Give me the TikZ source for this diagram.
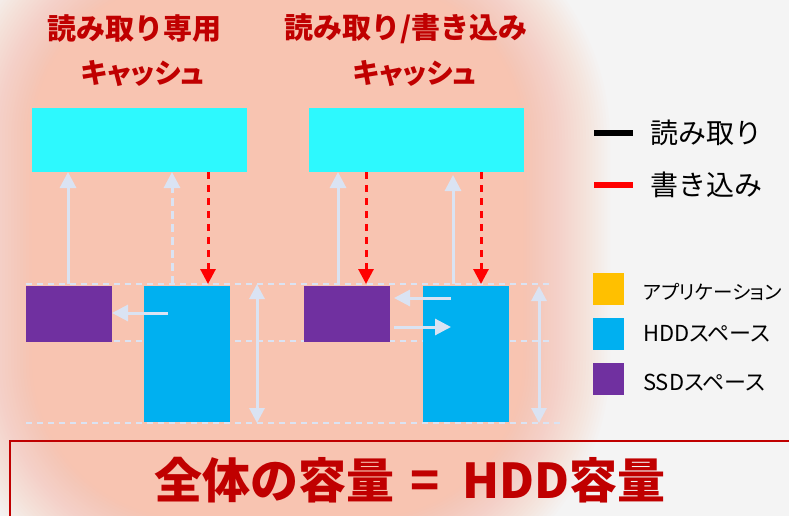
\documentclass[tikz,border=0pt]{standalone}
\usepackage{fontspec}
\usetikzlibrary{arrows.meta}
\newfontfamily\jp{Noto Sans CJK JP}
\newfontfamily\jpp[RawFeature=+palt]{Noto Sans CJK JP}
\definecolor{bgc}{HTML}{F4F4F4}
\definecolor{glow}{HTML}{F8C4B1}
\definecolor{cyanbox}{HTML}{2DF9FE}
\definecolor{purplebox}{HTML}{7030A0}
\definecolor{bluebox}{HTML}{00B0F0}
\definecolor{yellowbox}{HTML}{FFC000}
\definecolor{darkred}{HTML}{C00000}
\definecolor{pale}{HTML}{DAE3F3}
\definecolor{redline}{HTML}{FF0000}
\tikzset{
  blk/.style={inner sep=0pt, outer sep=0pt, anchor=north west, minimum width=#1},
  title/.style={text=darkred, font=\jp\bfseries\fontsize{29}{32}\selectfont},
  titlek/.style={text=darkred, font=\jpp\bfseries\fontsize{28}{32}\selectfont},
  readarrow/.style={draw=pale, line width=3pt, -{Triangle[width=16pt,length=16pt]}},
  twoway/.style={draw=pale, line width=3pt, {Triangle[width=15pt,length=15pt]}-{Triangle[width=15pt,length=15pt]}},
  writearrow/.style={draw=redline, line width=3pt, dash pattern=on 7pt off 6pt, -{Triangle[width=15pt,length=15pt]}},
  guide/.style={draw=pale, line width=2pt, dash pattern=on 6pt off 5pt},
  legtext/.style={anchor=west, inner sep=0pt, font=\jp\fontsize{28}{30}\selectfont},
  legsmall/.style={anchor=west, inner sep=0pt, font=\jpp\fontsize{#1}{24}\selectfont}
}
\begin{document}
\begin{tikzpicture}[x=1pt,y=-1pt]
\useasboundingbox (0,0) rectangle (789,516);
\fill[bgc] (0,0) rectangle (789,516);
% glow: linear ramp of 30 layers
\foreach \i in {0,...,29} {
  \pgfmathsetmacro{\d}{-45+3*\i}
  \pgfmathsetmacro{\r}{200-\d}
  \pgfmathsetmacro{\op}{1/(30-\i)}
  \fill[glow, opacity=\op, rounded corners=\r pt] (-10+\d,-60+\d) rectangle (565-\d,560-\d);
}
% titles
\node[title] (t1a) at (134,29) {読み取り専用};
\node[titlek] (t1b) at (143,74) {キャッシュ};
\node[title] (t2a) at (406,29) {読み取り/書き込み};
\node[titlek] (t2b) at (415,74) {キャッシュ};
% guide lines
\coordinate (gL) at (26,284);
\coordinate (gR) at (552,284);
\coordinate (gL2) at (26,341);
\coordinate (gR2) at (552,341);
\coordinate (gL3) at (26,423);
\coordinate (gR3) at (560,423);
\draw[guide] (gL) -- (gR);
\draw[guide] (gL2) -- (gR2);
\draw[guide] (gL3) -- (gR3);
% boxes
\node[blk=215pt, minimum height=64pt, fill=cyanbox] (c1) at (32,108) {};
\node[blk=215pt, minimum height=64pt, fill=cyanbox] (c2) at (309,108) {};
\node[blk=86pt, minimum height=56pt, fill=purplebox] (p1) at (26,286) {};
\node[blk=86pt, minimum height=136pt, fill=bluebox] (h1) at (144,286) {};
\node[blk=86pt, minimum height=56pt, fill=purplebox] (p2) at (304,286) {};
\node[blk=86pt, minimum height=136pt, fill=bluebox] (h2) at (423,286) {};
% x positions of vertical connectors
\coordinate (xa) at (68,0);
\coordinate (xb) at (172,0);
\coordinate (xc) at (208,0);
\coordinate (xd) at (338,0);
\coordinate (xe) at (366,0);
\coordinate (xf) at (453,0);
\coordinate (xg) at (481,0);
% cache 1
\draw[readarrow] (gL -| xa) -- (c1.south -| xa);
\draw[readarrow, dash pattern=on 8pt off 5pt] (gL -| xb) -- (c1.south -| xb);
\draw[writearrow] (c1.south -| xc) -- (gL -| xc);
\coordinate (ya) at (0,313);
\draw[readarrow] (ya -| h1.west) ++(24,0) coordinate (s1) -- (ya -| p1.east);
% cache 2
\draw[readarrow] (gL -| xd) -- (c2.south -| xd);
\draw[writearrow] (c2.south -| xe) -- (gL -| xe);
\draw[readarrow] (gL -| xf) -- ([yshift=-3pt]c2.south -| xf);
\draw[writearrow] (c2.south -| xg) -- (gL -| xg);
\coordinate (yb) at (0,298);
\coordinate (yc) at (0,327);
\coordinate (xh) at (451,0);
\draw[readarrow] (yb -| xh) -- ([xshift=4pt]yb -| p2.east);
\draw[readarrow] ([xshift=4pt]yc -| p2.east) -- (yc -| xh);
% capacity arrows
\coordinate (xi) at (257,0);
\coordinate (xj) at (539,0);
\draw[twoway] (gL -| xi) -- (gL3 -| xi);
\draw[twoway] ([yshift=-2pt]gL -| xj) -- (gL3 -| xj);
% legend
\node[blk=39pt, minimum height=6pt, fill=black, anchor=west] (lr) at (594,133) {};
\node[legtext] (lrt) at (650,133) {読み取り};
\node[blk=39pt, minimum height=6pt, fill=redline, anchor=west] (lw) at (594,185) {};
\node[legtext] (lwt) at (650,185) {書き込み};
\node[blk=31pt, minimum height=32pt, fill=yellowbox] (ly) at (593,273) {};
\node[legsmall=19.5] (lyt) at (643,292) {アプリケーション};
\node[blk=31pt, minimum height=32pt, fill=bluebox] (lb) at (593,318) {};
\node[legsmall=22] (lbt) at (643,334) {HDDスペース};
\node[blk=31pt, minimum height=32pt, fill=purplebox] (lp) at (593,363) {};
\node[legsmall=22] (lpt) at (643,383) {SSDスペース};
% total
\node[blk=820pt, minimum height=100pt, draw=darkred, line width=1.5pt] (tot) at (10,441) {};
\node[text=darkred, font=\jp\bfseries\fontsize{48}{52}\selectfont] (tott) at (410,480) {全体の容量\hspace{16pt}=\hspace{22pt}HDD容量};
\end{tikzpicture}
\end{document}
